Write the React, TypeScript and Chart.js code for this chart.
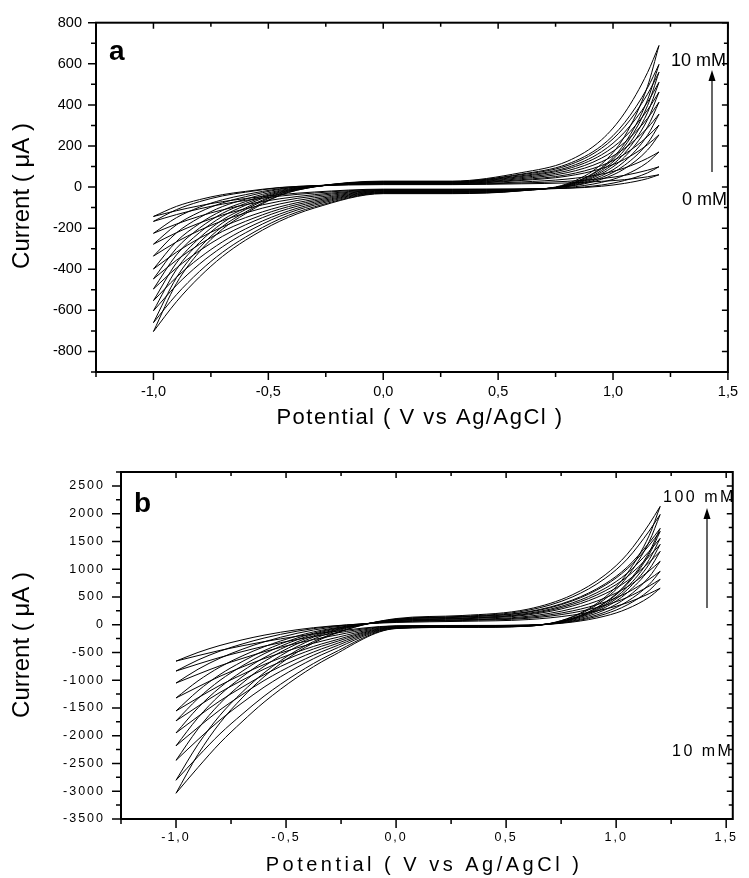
import React, { useEffect, useRef } from 'react';
import { Chart, registerables } from 'chart.js';
Chart.register(...registerables);

// Potential (V vs Ag/AgCl) sample points shared by every voltammogram branch
const POTENTIAL = [-1.0, -0.9, -0.8, -0.7, -0.6, -0.45, -0.3, 0.0, 0.3, 0.6, 0.8, 0.95, 1.05, 1.15, 1.2];

// ---- Panel a : 0 .. 10 mM (current in µA), upper (U) and lower (L) branch of each loop
const a0U = [-143, -94, -61, -37, -21, -2, 6, 12, 12, 16, 20, 28, 36, 50, 60];
const a0L = [-143, -115, -91, -71, -56, -37, -24, -10, -10, -9, -6, 4, 18, 41, 60];
const a1U = [-167, -110, -71, -43, -25, -3, 7, 14, 14, 20, 28, 41, 57, 82, 99];
const a1L = [-167, -134, -106, -83, -65, -44, -29, -12, -12, -10, -5, 10, 32, 69, 99];
const a2U = [-225, -149, -98, -62, -37, -8, 6, 15, 15, 25, 39, 63, 93, 140, 171];
const a2L = [-225, -180, -142, -111, -86, -57, -37, -14, -14, -11, -2, 23, 58, 120, 171];
const a3U = [-278, -184, -122, -77, -47, -11, 6, 17, 17, 32, 53, 90, 135, 206, 254];
const a3L = [-278, -222, -175, -136, -106, -69, -44, -16, -16, -11, 2, 38, 89, 180, 254];
const a4U = [-336, -223, -149, -95, -59, -16, 5, 18, 18, 36, 60, 105, 160, 246, 302];
const a4L = [-336, -267, -211, -164, -126, -82, -52, -18, -18, -12, 3, 46, 106, 213, 302];
const a5U = [-399, -265, -178, -114, -71, -20, 4, 20, 20, 41, 70, 123, 188, 288, 355];
const a5L = [-399, -317, -249, -194, -149, -96, -60, -20, -20, -13, 5, 55, 125, 252, 355];
const a6U = [-447, -298, -200, -128, -80, -24, 3, 21, 21, 46, 79, 141, 217, 334, 413];
const a6L = [-447, -356, -279, -216, -167, -107, -67, -22, -22, -14, 7, 65, 146, 293, 413];
const a7U = [-496, -330, -222, -143, -89, -27, 3, 23, 23, 51, 88, 157, 242, 375, 462];
const a7L = [-496, -394, -310, -240, -184, -118, -74, -24, -24, -15, 8, 73, 164, 328, 462];
const a8U = [-553, -369, -248, -160, -102, -31, 2, 24, 24, 55, 95, 172, 267, 413, 510];
const a8L = [-553, -439, -345, -267, -204, -131, -81, -26, -26, -16, 10, 81, 181, 362, 510];
const a9U = [-602, -401, -270, -175, -110, -34, 2, 26, 26, 60, 104, 189, 293, 452, 559];
const a9L = [-602, -478, -375, -291, -223, -142, -88, -28, -28, -17, 11, 90, 198, 396, 559];
const a10U = [-660, -441, -296, -192, -122, -39, 1, 27, 27, 63, 111, 201, 313, 483, 597];
const a10L = [-660, -524, -411, -318, -244, -155, -96, -30, -30, -18, 12, 95, 212, 424, 597];
const a11U = [-703, -469, -315, -205, -130, -41, 1, 29, 29, 70, 125, 230, 360, 557, 689];
const a11L = [-703, -558, -438, -338, -259, -166, -102, -32, -32, -18, 16, 112, 246, 490, 689];

// ---- Panel b : 10 .. 100 mM
const b0U = [-656, -500, -374, -274, -189, -91, -26, 40, 60, 92, 171, 281, 394, 559, 656];
const b0L = [-656, -557, -463, -381, -306, -210, -132, -20, -14, -7, 46, 155, 285, 495, 656];
const b1U = [-835, -636, -476, -349, -241, -117, -34, 50, 75, 115, 213, 350, 491, 696, 817];
const b1L = [-835, -709, -589, -486, -388, -267, -167, -25, -18, -9, 57, 192, 355, 616, 817];
const b2U = [-1051, -803, -603, -444, -310, -155, -50, 55, 83, 132, 247, 409, 576, 818, 961];
const b2L = [-1051, -892, -740, -610, -488, -335, -209, -30, -21, -11, 66, 226, 417, 724, 961];
const b3U = [-1320, -1012, -762, -565, -398, -204, -72, 60, 90, 151, 288, 482, 680, 970, 1141];
const b3L = [-1320, -1120, -929, -764, -611, -418, -259, -35, -25, -12, 79, 269, 495, 860, 1141];
const b4U = [-1554, -1191, -897, -666, -468, -241, -85, 70, 105, 176, 334, 558, 787, 1123, 1320];
const b4L = [-1554, -1317, -1092, -898, -718, -491, -304, -40, -28, -14, 92, 311, 574, 995, 1320];
const b5U = [-1733, -1329, -1002, -744, -525, -272, -98, 75, 113, 191, 364, 609, 862, 1230, 1446];
const b5L = [-1733, -1470, -1219, -1002, -801, -548, -340, -45, -32, -16, 100, 340, 628, 1090, 1446];
const b6U = [-1950, -1497, -1130, -841, -595, -310, -115, 80, 120, 204, 391, 655, 926, 1321, 1554];
const b6L = [-1950, -1653, -1371, -1127, -901, -616, -382, -50, -35, -19, 105, 364, 674, 1171, 1554];
const b7U = [-2182, -1675, -1264, -941, -665, -346, -128, 90, 135, 224, 426, 710, 1003, 1429, 1680];
const b7L = [-2182, -1850, -1534, -1261, -1007, -688, -426, -55, -39, -21, 113, 393, 728, 1266, 1680];
const b8U = [-2443, -1877, -1418, -1057, -750, -394, -149, 95, 143, 234, 442, 735, 1036, 1476, 1734];
const b8L = [-2443, -2070, -1716, -1410, -1126, -768, -475, -60, -42, -25, 113, 403, 750, 1306, 1734];
const b9U = [-2802, -2156, -1631, -1219, -868, -460, -180, 100, 150, 259, 497, 834, 1181, 1687, 1985];
const b9L = [-2802, -2374, -1966, -1615, -1288, -878, -541, -65, -46, -25, 134, 464, 860, 1496, 1985];
const b10U = [-3036, -2335, -1767, -1320, -938, -497, -194, 110, 165, 280, 536, 897, 1269, 1811, 2130];
const b10L = [-3036, -2571, -2130, -1749, -1396, -950, -586, -70, -49, -27, 143, 498, 924, 1605, 2130];

const A_CURVES = [a0U, a0L, a1U, a1L, a2U, a2L, a3U, a3L, a4U, a4L, a5U, a5L, a6U, a6L, a7U, a7L, a8U, a8L, a9U, a9L, a10U, a10L, a11U, a11L];
const B_CURVES = [b0U, b0L, b1U, b1L, b2U, b2L, b3U, b3L, b4U, b4L, b5U, b5L, b6U, b6L, b7U, b7L, b8U, b8L, b9U, b9L, b10U, b10L];

// Tick labels
const X_TICKS = [-1.0, -0.5, 0.0, 0.5, 1.0, 1.5];
const A_Y_TICKS = [-800, -600, -400, -200, 0, 200, 400, 600, 800];
const B_Y_TICKS = [-3500, -3000, -2500, -2000, -1500, -1000, -500, 0, 500, 1000, 1500, 2000, 2500];

const X_TITLE = 'Potential ( V vs Ag/AgCl )';
const Y_TITLE = 'Current ( μA )';

const FONT = "'Liberation Sans', Arial, Helvetica, sans-serif";

type Txt = { text: string; x: number; y: number; size: number; bold?: boolean; spacing?: number; align?: CanvasTextAlign; rotate?: boolean };

type Panel = {
  curves: number[][];
  yTicks: number[];
  canvasTop: number;
  canvasHeight: number;
  padTop: number;
  padRight: number;
  yWidth: number;
  xHeight: number;
  xMin: number; xMax: number; yMin: number; yMax: number;
  xMinor: number; xMajor: number; yMinor: number; yMajor: number;
  tickSize: number; tickSpacing: number; yPad: number; xPad: number;
  majorLen: number; minorLen: number;
  texts: Txt[];
  arrow: { x: number; top: number; bottom: number };
};

const PANEL_A: Panel = {
  curves: A_CURVES, yTicks: A_Y_TICKS,
  canvasTop: 0, canvasHeight: 440, padTop: 20, padRight: 11, yWidth: 96, xHeight: 68,
  xMin: -1.25, xMax: 1.5, yMin: -900, yMax: 800,
  xMinor: 0.25, xMajor: 0.5, yMinor: 100, yMajor: 200,
  tickSize: 14.5, tickSpacing: 0, yPad: 14, xPad: 11, majorLen: 8, minorLen: 5,
  texts: [
    { text: 'a', x: 109, y: 52, size: 28, bold: true, align: 'left' },
    { text: '10 mM', x: 671, y: 61, size: 18, align: 'left' },
    { text: '0 mM', x: 682, y: 200, size: 18, align: 'left' },
    { text: Y_TITLE, x: 22, y: 196, size: 24, rotate: true },
    { text: X_TITLE, x: 420, y: 418, size: 22, spacing: 1.5 },
  ],
  arrow: { x: 712, top: 70, bottom: 172 },
};

const PANEL_B: Panel = {
  curves: B_CURVES, yTicks: B_Y_TICKS,
  canvasTop: 440, canvasHeight: 438, padTop: 32, padRight: 12, yWidth: 121, xHeight: 59,
  xMin: -1.25, xMax: 1.53, yMin: -3500, yMax: 2750,
  xMinor: 0.25, xMajor: 0.5, yMinor: 250, yMajor: 500,
  tickSize: 12.5, tickSpacing: 2, yPad: 16, xPad: 11, majorLen: 9, minorLen: 5,
  texts: [
    { text: 'b', x: 134, y: 64, size: 28, bold: true, align: 'left' },
    { text: '100 mM', x: 663, y: 58, size: 16, spacing: 2.5, align: 'left' },
    { text: '10 mM', x: 672, y: 312, size: 16, spacing: 2.5, align: 'left' },
    { text: Y_TITLE, x: 22, y: 205, size: 24, rotate: true },
    { text: X_TITLE, x: 424, y: 425, size: 20, spacing: 3.5 },
  ],
  arrow: { x: 707, top: 68, bottom: 168 },
};

const near = (v: number, step: number) => Math.abs(v / step - Math.round(v / step)) < 1e-6;

function framePlugin(p: Panel) {
  return {
    id: 'frameAndText',
    beforeLayout(chart: any) { chart.ctx.letterSpacing = p.tickSpacing + 'px'; },
    beforeDraw(chart: any) { chart.ctx.letterSpacing = p.tickSpacing + 'px'; },
    afterDraw(chart: any) {
      const ctx = chart.ctx as CanvasRenderingContext2D & { letterSpacing: string };
      const { left, right, top, bottom } = chart.chartArea;
      const xs = chart.scales.x, ys = chart.scales.y;
      ctx.save();
      ctx.strokeStyle = '#000';
      ctx.fillStyle = '#000';
      ctx.lineWidth = 1.5;
      ctx.beginPath();
      for (let v = p.xMin; v <= p.xMax + 1e-9; v += p.xMinor) {
        if (!near(v, p.xMinor)) continue;
        const px = xs.getPixelForValue(v);
        const major = near(v, p.xMajor);
        ctx.moveTo(px, bottom); ctx.lineTo(px, bottom + (major ? p.majorLen : p.minorLen));
        ctx.moveTo(px, top); ctx.lineTo(px, top + (major ? 6 : 4));
      }
      for (let v = p.yMin; v <= p.yMax + 1e-9; v += p.yMinor) {
        const py = ys.getPixelForValue(v);
        const major = near(v, p.yMajor);
        ctx.moveTo(left, py); ctx.lineTo(left - (major ? p.majorLen : p.minorLen), py);
        ctx.moveTo(right, py); ctx.lineTo(right - (major ? 6 : 4), py);
      }
      ctx.stroke();
      ctx.lineWidth = 2;
      ctx.strokeRect(left, top, right - left, bottom - top);

      // arrow
      const a = p.arrow;
      ctx.lineWidth = 1.2;
      ctx.beginPath();
      ctx.moveTo(a.x, a.bottom); ctx.lineTo(a.x, a.top + 8);
      ctx.stroke();
      ctx.beginPath();
      ctx.moveTo(a.x, a.top); ctx.lineTo(a.x - 3.5, a.top + 11); ctx.lineTo(a.x + 3.5, a.top + 11); ctx.closePath();
      ctx.fill();

      for (const t of p.texts) {
        ctx.save();
        ctx.letterSpacing = (t.spacing || 0) + 'px';
        ctx.font = `${t.bold ? 'bold ' : ''}${t.size}px ${FONT}`;
        ctx.textAlign = t.align || 'center';
        ctx.textBaseline = 'middle';
        ctx.translate(t.x, t.y);
        if (t.rotate) ctx.rotate(-Math.PI / 2);
        ctx.fillText(t.text, 0, 0);
        ctx.restore();
      }
      ctx.restore();
    },
  };
}

function makeConfig(p: Panel): any {
  const datasets = p.curves.map((arr) => ({
    data: POTENTIAL.map((x, i) => ({ x, y: arr[i] })),
    borderColor: '#000',
    borderWidth: 1,
    pointRadius: 0,
    fill: false,
    cubicInterpolationMode: 'monotone',
  }));
  const tickFont = { family: FONT, size: p.tickSize };
  return {
    type: 'line',
    data: { datasets },
    options: {
      responsive: false,
      animation: false,
      events: [],
      layout: { padding: { top: p.padTop, right: p.padRight, left: 0, bottom: 0 } },
      plugins: { legend: { display: false }, tooltip: { enabled: false }, title: { display: false } },
      scales: {
        x: {
          type: 'linear', min: p.xMin, max: p.xMax,
          grid: { display: false, drawTicks: false }, border: { display: false },
          afterBuildTicks: (s: any) => { s.ticks = X_TICKS.map((v) => ({ value: v })); },
          afterFit: (s: any) => { s.height = p.xHeight; },
          ticks: {
            autoSkip: false, maxRotation: 0, minRotation: 0, padding: p.xPad, color: '#000', font: tickFont,
            callback: (v: any) => Number(v).toFixed(1).replace('.', ','),
          },
        },
        y: {
          type: 'linear', min: p.yMin, max: p.yMax,
          grid: { display: false, drawTicks: false }, border: { display: false },
          afterBuildTicks: (s: any) => { s.ticks = p.yTicks.map((v) => ({ value: v })); },
          afterFit: (s: any) => { s.width = p.yWidth; },
          ticks: {
            autoSkip: false, padding: p.yPad, color: '#000', font: tickFont,
            callback: (v: any) => String(v),
          },
        },
      },
    },
    plugins: [framePlugin(p)],
  };
}

function PanelChart({ panel }: { panel: Panel }) {
  const ref = useRef<HTMLCanvasElement | null>(null);
  useEffect(() => {
    if (!ref.current) return;
    const chart = new Chart(ref.current, makeConfig(panel));
    return () => chart.destroy();
  }, [panel]);
  return (
    <canvas
      ref={ref}
      width={749}
      height={panel.canvasHeight}
      style={{ position: 'absolute', left: 0, top: panel.canvasTop, width: 749, height: panel.canvasHeight, display: 'block' }}
    />
  );
}

export default function App() {
  return (
    <div style={{ position: 'absolute', left: 0, top: 0, width: 749, height: 878, background: '#fff', overflow: 'hidden' }}>
      <PanelChart panel={PANEL_A} />
      <PanelChart panel={PANEL_B} />
    </div>
  );
}
